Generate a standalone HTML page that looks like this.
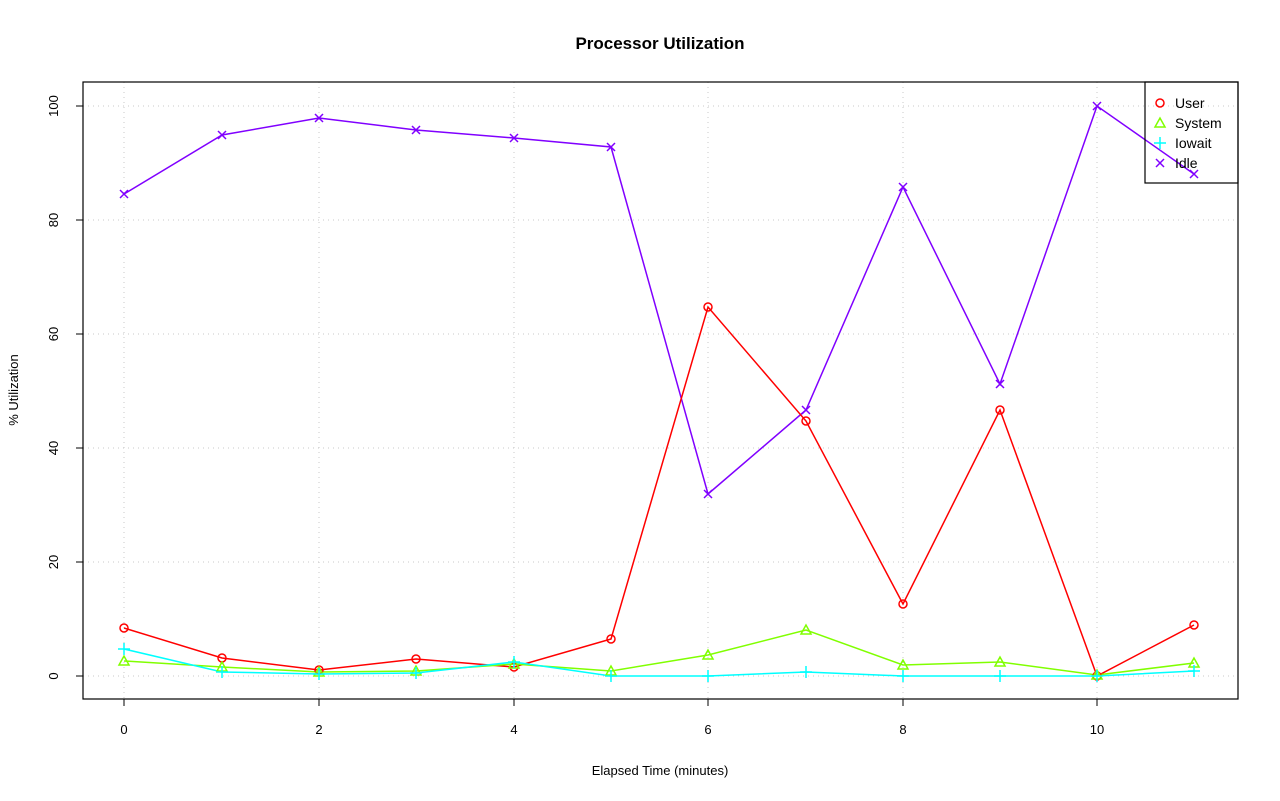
<!DOCTYPE html>
<html><head><meta charset="utf-8"><style>body{margin:0;background:#fff}svg{display:block}text{font-family:"Liberation Sans",sans-serif}</style></head>
<body>
<svg width="1280" height="801" xmlns="http://www.w3.org/2000/svg">
<rect width="1280" height="801" fill="#fff"/>
<text x="660" y="49" text-anchor="middle" font-size="17" font-weight="bold">Processor Utilization</text>
<g stroke="#c8c8c8" stroke-dasharray="1,4" stroke-width="1">
<line x1="124" y1="82" x2="124" y2="699"/><line x1="319" y1="82" x2="319" y2="699"/><line x1="514" y1="82" x2="514" y2="699"/><line x1="708" y1="82" x2="708" y2="699"/><line x1="903" y1="82" x2="903" y2="699"/><line x1="1097" y1="82" x2="1097" y2="699"/>
<line x1="83" y1="676" x2="1238" y2="676"/><line x1="83" y1="562" x2="1238" y2="562"/><line x1="83" y1="448" x2="1238" y2="448"/><line x1="83" y1="334" x2="1238" y2="334"/><line x1="83" y1="220" x2="1238" y2="220"/><line x1="83" y1="106" x2="1238" y2="106"/>
</g>
<rect x="83" y="82" width="1155" height="617" fill="none" stroke="#000" stroke-width="1.2"/>
<g stroke="#000" font-size="13">
<line x1="124" y1="699" x2="124" y2="706"/><line x1="319" y1="699" x2="319" y2="706"/><line x1="514" y1="699" x2="514" y2="706"/><line x1="708" y1="699" x2="708" y2="706"/><line x1="903" y1="699" x2="903" y2="706"/><line x1="1097" y1="699" x2="1097" y2="706"/>
<line x1="83" y1="676" x2="76" y2="676"/><line x1="83" y1="562" x2="76" y2="562"/><line x1="83" y1="448" x2="76" y2="448"/><line x1="83" y1="334" x2="76" y2="334"/><line x1="83" y1="220" x2="76" y2="220"/><line x1="83" y1="106" x2="76" y2="106"/>
</g>
<g font-size="13" text-anchor="middle">
<text x="124" y="734">0</text><text x="319" y="734">2</text><text x="514" y="734">4</text><text x="708" y="734">6</text><text x="903" y="734">8</text><text x="1097" y="734">10</text>
<text transform="translate(58,676) rotate(-90)">0</text><text transform="translate(58,562) rotate(-90)">20</text><text transform="translate(58,448) rotate(-90)">40</text><text transform="translate(58,334) rotate(-90)">60</text><text transform="translate(58,220) rotate(-90)">80</text><text transform="translate(58,106) rotate(-90)">100</text>
<text x="660" y="775">Elapsed Time (minutes)</text>
<text transform="translate(18,390) rotate(-90)">% Utilization</text>
</g>
<g fill="none" stroke-width="1.5">
<polyline stroke="#8000ff" points="124,194 222,135 319,118 416,130 514,138 611,147 708,494 806,410 903,187 1000,384 1097,106 1194,174"/>
<polyline stroke="#ff0000" points="124,628 222,658 319,670 416,659 514,667 611,639 708,307 806,421 903,604 1000,410 1097,676 1194,625"/>
<polyline stroke="#80ff00" points="124,661 222,667 319,672 416,671 514,664 611,671 708,655 806,630 903,665 1000,662 1097,675 1194,663"/>
<polyline stroke="#00ffff" points="124,649 222,672 319,674 416,673 514,662 611,676 708,676 806,672 903,676 1000,676 1097,676 1194,671"/>
</g>
<g fill="none" stroke="#ff0000" stroke-width="1.5">
<circle cx="124" cy="628" r="4"/><circle cx="222" cy="658" r="4"/><circle cx="319" cy="670" r="4"/><circle cx="416" cy="659" r="4"/><circle cx="514" cy="667" r="4"/><circle cx="611" cy="639" r="4"/><circle cx="708" cy="307" r="4"/><circle cx="806" cy="421" r="4"/><circle cx="903" cy="604" r="4"/><circle cx="1000" cy="410" r="4"/><circle cx="1097" cy="676" r="4"/><circle cx="1194" cy="625" r="4"/>
<circle cx="1160" cy="103" r="4"/>
</g>
<g fill="none" stroke="#80ff00" stroke-width="1.5">
<path d="M124,656 l-5,9 h10z M222,662 l-5,9 h10z M319,667 l-5,9 h10z M416,666 l-5,9 h10z M514,659 l-5,9 h10z M611,666 l-5,9 h10z M708,650 l-5,9 h10z M806,625 l-5,9 h10z M903,660 l-5,9 h10z M1000,657 l-5,9 h10z M1097,670 l-5,9 h10z M1194,658 l-5,9 h10z M1160,118 l-5,9 h10z"/>
</g>
<g fill="none" stroke="#00ffff" stroke-width="1.5">
<path d="M118,649h12M124,643v12 M216,672h12M222,666v12 M313,674h12M319,668v12 M410,673h12M416,667v12 M508,662h12M514,656v12 M605,676h12M611,670v12 M702,676h12M708,670v12 M800,672h12M806,666v12 M897,676h12M903,670v12 M994,676h12M1000,670v12 M1091,676h12M1097,670v12 M1188,671h12M1194,665v12 M1154,143h12M1160,137v12"/>
</g>
<g fill="none" stroke="#8000ff" stroke-width="1.5">
<path d="M120,190l8,8m0,-8l-8,8 M218,131l8,8m0,-8l-8,8 M315,114l8,8m0,-8l-8,8 M412,126l8,8m0,-8l-8,8 M510,134l8,8m0,-8l-8,8 M607,143l8,8m0,-8l-8,8 M704,490l8,8m0,-8l-8,8 M802,406l8,8m0,-8l-8,8 M899,183l8,8m0,-8l-8,8 M996,380l8,8m0,-8l-8,8 M1093,102l8,8m0,-8l-8,8 M1190,170l8,8m0,-8l-8,8 M1156,159l8,8m0,-8l-8,8"/>
</g>
<rect x="1145" y="82" width="93" height="101" fill="none" stroke="#000" stroke-width="1.2"/>
<g font-size="14">
<text x="1175" y="108">User</text><text x="1175" y="128">System</text><text x="1175" y="148">Iowait</text><text x="1175" y="168">Idle</text>
</g>
</svg>
</body></html>
